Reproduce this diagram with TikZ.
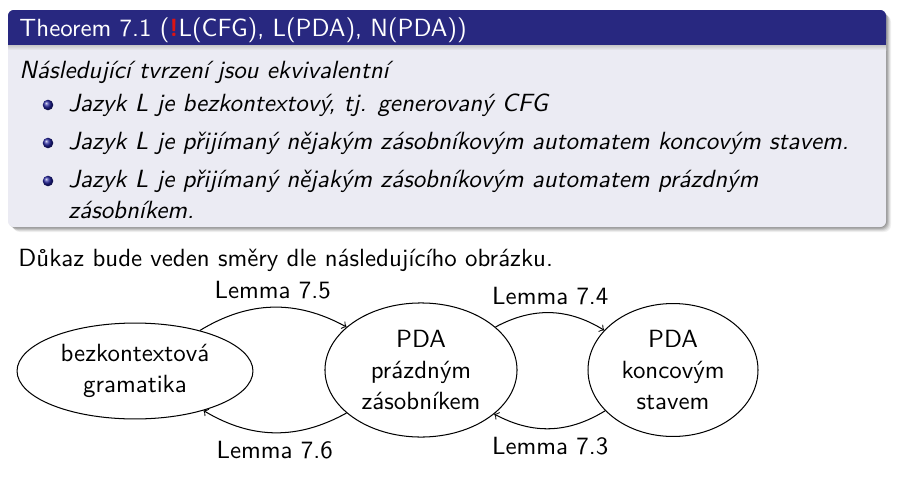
\documentclass[tikz,border=0pt]{standalone}
\usepackage{fontspec}
\usetikzlibrary{shapes.geometric}
\renewcommand{\familydefault}{\sfdefault}
\definecolor{blocktitle}{RGB}{40,40,128}
\definecolor{blockbody}{RGB}{235,235,243}
\definecolor{alertred}{RGB}{220,20,20}
\tikzset{
  txt/.style={anchor=base west, inner sep=0pt, font=\fontsize{10.95}{13.6}\selectfont},
  itemtxt/.style={txt, font=\fontsize{10.95}{13.6}\selectfont\itshape},
  stateell/.style={draw, ellipse, inner sep=0pt, line width=0.45pt, align=center,
    font=\fontsize{10.95}{13.6}\selectfont},
  arr/.style={->, line width=0.45pt},
  lbl/.style={font=\fontsize{10.95}{13.6}\selectfont},
  ballbullet/.style={ball color=blocktitle!80!blue}
}
\begin{document}
\begin{tikzpicture}[x=0.44pt, y=-0.44pt]
\useasboundingbox (0,0) rectangle (897,482);

% block shadow
\foreach \o/\op in {5/0.06, 4/0.08, 3/0.10, 2/0.12, 1/0.14}
  \fill[black, opacity=\op, rounded corners=3pt] (8+\o,10+\o) rectangle (886+\o,227+\o);

% block body and title bar
\fill[blockbody, rounded corners=2.5pt] (8,10) rectangle (886,227);
\fill[blocktitle, rounded corners=2.5pt] (8,10) rectangle (886,45);
\fill[blocktitle] (8,30) rectangle (886,45);
\shade[top color=black!22, bottom color=blockbody] (8,45) rectangle (886,50);

% title
\node[txt, text=white] (title) at (19,36)
  {Theorem 7.1 ({\bfseries\color{alertred}!}L(CFG), L(PDA), N(PDA))};

% block body text
\node[itemtxt] (intro) at (19,78) {Následující tvrzení jsou ekvivalentní};

\shade[ballbullet] (48,105) circle [radius=5.3];
\node[itemtxt] (item1) at (68,111) {Jazyk L je bezkontextový, tj. generovaný CFG};

\shade[ballbullet] (48,143) circle [radius=5.3];
\node[itemtxt] (item2) at (68,149) {Jazyk L je přijímaný nějakým zásobníkovým automatem koncovým stavem.};

\shade[ballbullet] (48,181) circle [radius=5.3];
\node[itemtxt] (item3a) at (68,187) {Jazyk L je přijímaný nějakým zásobníkovým automatem prázdným};
\node[itemtxt] (item3b) at (68,218) {zásobníkem.};

% proof outline sentence
\node[txt] (proof) at (18,266) {Důkaz bude veden směry dle následujícího obrázku.};

% diagram
\node[stateell, minimum width=103.8pt, minimum height=42.2pt] (g) at (135,371)
  {bezkontextová\\gramatika};
\node[stateell, minimum width=84.5pt, minimum height=59pt] (m) at (421,370)
  {PDA\\prázdným\\zásobníkem};
\node[stateell, minimum width=74.8pt, minimum height=58.5pt] (f) at (673,370)
  {PDA\\koncovým\\stavem};

\draw[arr] (g.32) to[bend left=30] node[lbl, above] {Lemma 7.5} (m.150);
\draw[arr] (m.210) to[bend left=30] node[lbl, below] {Lemma 7.6} (g.330);
\draw[arr] (m.30) to[bend left=30] node[lbl, above] {Lemma 7.4} (f.150);
\draw[arr] (f.211) to[bend left=30] node[lbl, below] {Lemma 7.3} (m.329);
\end{tikzpicture}
\end{document}
